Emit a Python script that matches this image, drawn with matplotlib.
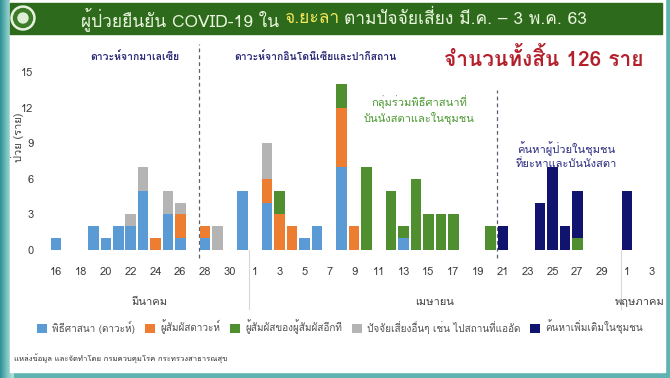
import numpy as np
import matplotlib.pyplot as plt
from matplotlib import font_manager, ft2font
from matplotlib.patches import Rectangle, Circle
from matplotlib.colors import LinearSegmentedColormap
from matplotlib.transforms import blended_transform_factory


# ฟอนต์ที่มีอักษรไทย (ถ้ามี)
thai_fonts = []
for f in font_manager.fontManager.ttflist:
    try:
        cmap = ft2font.FT2Font(f.fname).get_charmap()
    except Exception:
        continue
    if 0x0E1C in cmap and 0x0E49 in cmap and 0x0E32 in cmap:
        thai_fonts.append(f.name)

families = []
for name in thai_fonts:
    if name not in families:
        families.append(name)
families.append("DejaVu Sans")
plt.rcParams["font.family"] = families


# วันที่ 16 มี.ค. - 3 พ.ค.
days = list(range(16, 32)) + list(range(1, 31)) + list(range(1, 4))

# จำนวนผู้ป่วยต่อวัน แยกตามปัจจัยเสี่ยง
#            มี.ค. 16-31                      | เม.ย. 1-30                                                  | พ.ค. 1-3
dawah    = [1,0,0,2,1,2,2,5,0,3,1,0,1,0,0,5,  0,4,0,0,1,2,0,7,0,0,0,0,1,0,0,0,0,0,0,0,0,0,0,0,0,0,0,0,0,0,  0,0,0]
contact  = [0,0,0,0,0,0,0,0,1,0,2,0,1,0,0,0,  0,2,3,2,0,0,0,5,2,0,0,0,0,0,0,0,0,0,0,0,0,0,0,0,0,0,0,0,0,0,  0,0,0]
contact2 = [0,0,0,0,0,0,0,0,0,0,0,0,0,0,0,0,  0,0,2,0,0,0,0,2,0,7,0,5,1,6,3,3,3,0,0,2,0,0,0,0,0,0,1,0,0,0,  0,0,0]
other    = [0,0,0,0,0,0,1,2,0,2,1,0,0,2,0,0,  0,3,0,0,0,0,0,0,0,0,0,0,0,0,0,0,0,0,0,0,0,0,0,0,0,0,0,0,0,0,  0,0,0]
search   = [0,0,0,0,0,0,0,0,0,0,0,0,0,0,0,0,  0,0,0,0,0,0,0,0,0,0,0,0,0,0,0,0,0,0,0,0,2,0,0,4,7,2,4,0,0,0,  5,0,0]

series = [dawah, contact, contact2, other, search]
labels = ["พิธีศาสนา (ดาวะห์)", "ผู้สัมผัสดาวะห์", "ผู้สัมผัสของผู้สัมผัสอีกที",
          "ปัจจัยเสี่ยงอื่นๆ เช่น ไปสถานที่แออัด", "ค้นหาเพิ่มเติมในชุมชน"]
colors = ["#5b9bd5", "#ed7d31", "#4f8f2f", "#b4b4b4", "#10146e"]

months = ["มีนาคม", "เมษายน", "พฤษภาคม"]
month_lengths = [16, 30, 3]

W, H = 670, 378
fig = plt.figure(figsize=(W / 100, H / 100), dpi=100)

# พื้นหลังสไลด์ (พิกัดเป็นพิกเซล)
bg = fig.add_axes([0, 0, 1, 1])
bg.set_xlim(0, W)
bg.set_ylim(H, 0)
bg.axis("off")
teal = LinearSegmentedColormap.from_list("teal", ["#2f8f95", "#7cc6c2", "#bfe6e2"])
bg.imshow(np.linspace(0, 1, 50).reshape(1, -1), extent=[0, 14, H, 0], cmap=teal, aspect="auto")
bg.add_patch(Rectangle((14, 0), W - 14, H, color="#5fb3b0", zorder=0))
bg.add_patch(Rectangle((10, 0), 655, 372, color="white", zorder=1))
bg.add_patch(Rectangle((10, 3), 652, 31, color="#2e6a1c", zorder=2))
bg.add_patch(Circle((23, 18), 12, color="#e8f2e0", zorder=3))
bg.add_patch(Circle((23, 18), 9.5, color="#3d7d2a", zorder=4))
bg.add_patch(Circle((23, 18), 5, color="#dfeed6", zorder=5))

# หัวเรื่อง (สองสี)
parts = [("ผู้ป่วยยืนยัน COVID-19 ใน", "#e9f6dd"), ("จ.ยะลา", "#f3e85a"),
         ("ตามปัจจัยเสี่ยง มี.ค. – 3 พ.ค. 63", "#e9f6dd")]
texts = [bg.text(0, 19, s, color=c, fontsize=12.5, va="center", zorder=6) for s, c in parts]
fig.canvas.draw()
gap = 5
widths = [t.get_window_extent().width for t in texts]
x0 = 334 - (sum(widths) + gap * (len(widths) - 1)) / 2
for t, w in zip(texts, widths):
    t.set_x(x0)
    x0 += w + gap

# กราฟแท่ง
ax = fig.add_axes([50 / W, 1 - 250 / H, 608 / W, 178 / H])
ax.patch.set_alpha(0)
x = np.arange(len(days))
bottom = np.zeros(len(days))
for vals, lab, col in zip(series, labels, colors):
    ax.bar(x, vals, width=0.85, bottom=bottom, color=col, label=lab, zorder=3)
    bottom += np.array(vals)

ax.set_xlim(-0.5, len(days) - 0.5)
ax.set_ylim(0, 15)
ax.set_yticks([0, 3, 6, 9, 12, 15])
ax.set_xticks(x[::2])
ax.set_xticklabels([str(d) for d in days[::2]])
ax.tick_params(length=0, labelsize=8, colors="#404040")
ax.tick_params(axis="x", pad=12)
ax.tick_params(axis="y", pad=12)
for s in ax.spines.values():
    s.set_visible(False)

# ชื่อเดือนและเส้นแบ่งเดือน
tr = blended_transform_factory(ax.transData, ax.transAxes)
start = 0
for m, n in zip(months, month_lengths):
    ax.text(start + (n - 1) / 2, -0.29, m, transform=tr, ha="center", va="center",
            fontsize=8, color="#404040")
    if start > 0:
        ax.plot([start - 0.5, start - 0.5], [0, -5], color="#d8d8d8", lw=0.8, clip_on=False)
    start += n

# เส้นประแบ่งช่วง
ax.plot([11.5, 11.5], [-0.7, 17.4], color="#5a6070", lw=0.9, ls=(0, (3, 2.5)), clip_on=False)
ax.plot([35.5, 35.5], [-0.7, 13.5], color="#5a6070", lw=0.9, ls=(0, (3, 2.5)), clip_on=False)

# ข้อความอธิบาย
bg.text(18, 137, "ป่วย (ราย)", rotation=90, ha="center", va="center", fontsize=8, color="#404040")
bg.text(135, 57, "ดาวะห์จากมาเลเซีย", ha="center", va="center", fontsize=7.5,
        color="#2a2a78", fontweight="bold")
bg.text(315, 57, "ดาวะห์จากอินโดนีเซียและปากีสถาน", ha="center", va="center", fontsize=7.5,
        color="#2a2a78", fontweight="bold")
bg.text(544, 59, "จำนวนทั้งสิ้น 126 ราย", ha="center", va="center", fontsize=15,
        color="#b3202c", fontweight="bold")
bg.text(419, 110, "กลุ่มร่วมพิธีศาสนาที่\nบันนังสตาและในชุมชน", ha="center", va="center",
        fontsize=8, color="#4c9a32", linespacing=1.2)
bg.text(566, 155, "ค้นหาผู้ป่วยในชุมชน\nที่ยะหาและบันนังสตา", ha="center", va="center",
        fontsize=8, color="#2a2a80", linespacing=1.2)
bg.text(14, 358, "แหล่งข้อมูล และจัดทำโดย กรมควบคุมโรค กระทรวงสาธารณสุข", ha="left",
        va="center", fontsize=5.5, color="#303030")

fig.legend(loc="center", bbox_to_anchor=(340 / W, 1 - 327 / H), ncol=5, frameon=False,
           fontsize=7.2, handlelength=1, handleheight=1, handletextpad=0.5,
           columnspacing=1.0, labelcolor="#505050")

fig.savefig("out.png", dpi=100)
